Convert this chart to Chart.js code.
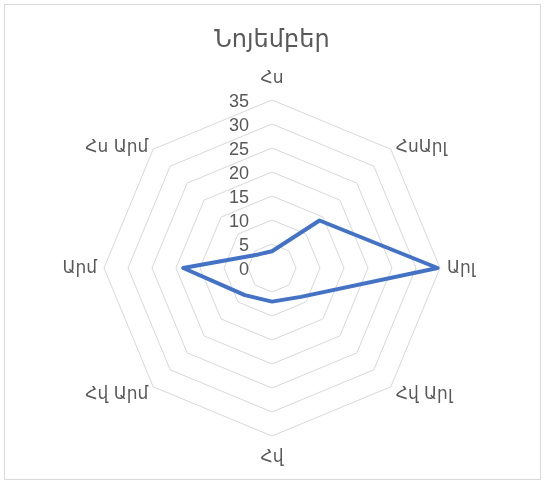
<!DOCTYPE html>
<html>
<head>
<meta charset="utf-8">
<script src="https://cdn.jsdelivr.net/npm/chart.js@4/dist/chart.umd.min.js"></script>
<style>
  html, body { margin: 0; padding: 0; background: #ffffff; }
  #wrap { width: 545px; height: 483px; }
</style>
</head>
<body>
<div id="wrap"><canvas id="radar" width="545" height="483"></canvas></div>
<script>
// Wind directions (spokes, clockwise from north)
const directions = ['Հս', 'ՀսԱրլ', 'Արլ', 'Հվ Արլ', 'Հվ', 'Հվ Արմ', 'Արմ', 'Հս Արմ'];
// November frequencies per direction
const novemberValues = [3.5, 14, 34.5, 8.5, 7, 8, 18.5, 4];
// Radial scale ticks
const scaleMin = 0;
const scaleMax = 35;
const scaleStep = 5;
const chartTitle = 'Նոյեմբեր';

const textGrey = '#595959';
const armenianFont = "'DejaVu Sans', sans-serif";
const numberFont = "'Liberation Sans', Arial, sans-serif";

// Outer frame around the whole chart
const framePlugin = {
  id: 'frame',
  beforeDraw(chart) {
    const ctx = chart.ctx;
    ctx.save();
    ctx.fillStyle = '#ffffff';
    ctx.fillRect(0, 0, chart.width, chart.height);
    ctx.strokeStyle = '#d9d9d9';
    ctx.lineWidth = 1;
    ctx.strokeRect(4.5, 4.5, chart.width - 9, chart.height - 8);
    ctx.restore();
  }
};

// Value labels stacked to the left of the north spoke
const tickLabelPlugin = {
  id: 'tickLabels',
  beforeDatasetsDraw(chart) {
    const scale = chart.scales.r;
    const ctx = chart.ctx;
    ctx.save();
    ctx.font = '18px ' + numberFont;
    ctx.fillStyle = textGrey;
    ctx.textAlign = 'right';
    ctx.textBaseline = 'middle';
    scale.ticks.forEach(t => {
      const d = scale.getDistanceFromCenterForValue(t.value);
      ctx.fillText(String(t.value), scale.xCenter - 23, scale.yCenter - d + 2);
    });
    ctx.restore();
  }
};

// Direction names just outside the outer ring
const pointLabelPlugin = {
  id: 'dirLabels',
  afterDraw(chart) {
    const scale = chart.scales.r;
    const ctx = chart.ctx;
    ctx.save();
    ctx.font = '17px ' + armenianFont;
    ctx.fillStyle = textGrey;
    ctx.textBaseline = 'middle';
    directions.forEach((name, i) => {
      const p = scale.getPointPosition(i, scale.drawingArea + 7);
      const dx = p.x - scale.xCenter;
      const dy = p.y - scale.yCenter;
      let x = p.x, y = p.y;
      if (Math.abs(dx) < 1) {
        ctx.textAlign = 'center';
        y += dy < 0 ? -14 : 15;
      } else {
        ctx.textAlign = dx > 0 ? 'left' : 'right';
        if (Math.abs(dy) > 1) {
          y += 3;
        } else {
          y += 1;
        }
      }
      ctx.fillText(name, x, y);
    });
    ctx.restore();
  }
};

new Chart(document.getElementById('radar'), {
  type: 'radar',
  data: {
    labels: directions,
    datasets: [{
      label: chartTitle,
      data: novemberValues,
      borderColor: '#4472C4',
      backgroundColor: 'rgba(0,0,0,0)',
      borderWidth: 4,
      borderJoinStyle: 'round',
      fill: false,
      pointRadius: 0,
      pointHoverRadius: 0,
      tension: 0
    }]
  },
  options: {
    responsive: false,
    animation: false,
    events: [],
    layout: { padding: { top: 0, left: 104, right: 105, bottom: 46 } },
    plugins: {
      legend: { display: false },
      tooltip: { enabled: false },
      title: {
        display: true,
        text: chartTitle,
        color: textGrey,
        font: { family: armenianFont, size: 24, weight: 'normal' },
        padding: { top: 26, bottom: 46 }
      }
    },
    scales: {
      r: {
        min: scaleMin,
        max: scaleMax,
        ticks: { stepSize: scaleStep, display: false },
        grid: { color: '#d9d9d9', lineWidth: 1 },
        angleLines: { display: false },
        pointLabels: { display: false }
      }
    }
  },
  plugins: [framePlugin, tickLabelPlugin, pointLabelPlugin]
});
</script>
</body>
</html>
